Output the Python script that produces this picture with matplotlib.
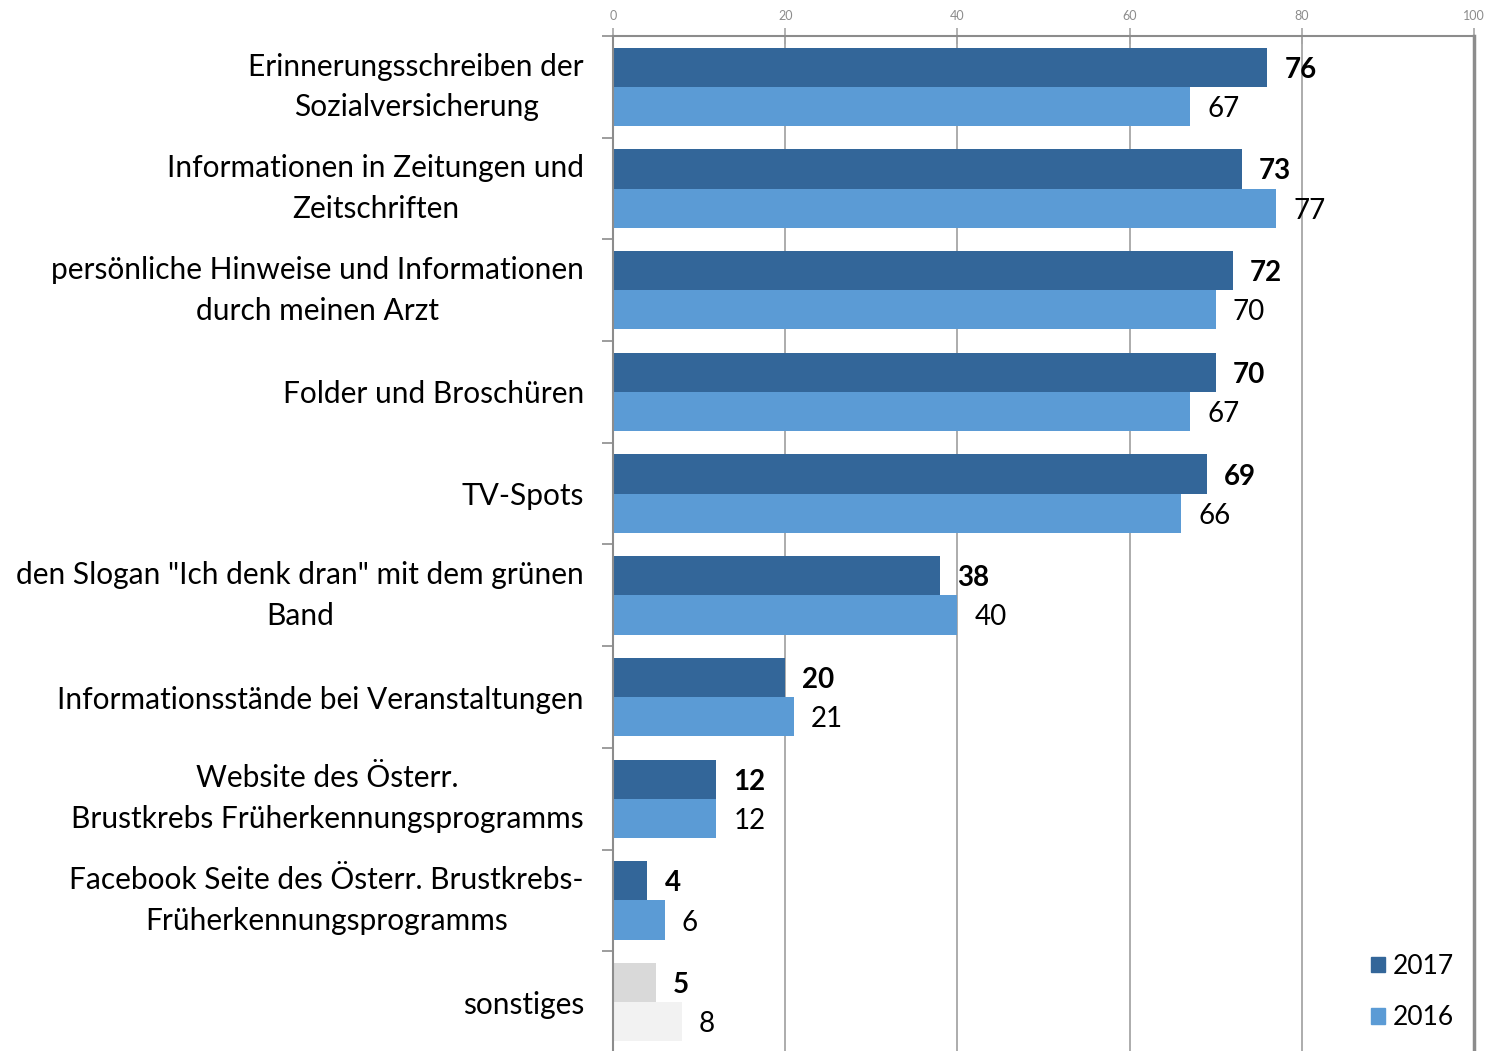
import matplotlib.pyplot as plt
import numpy as np

# Daten
kategorien = [
    "Erinnerungsschreiben der\nSozialversicherung",
    "Informationen in Zeitungen und\nZeitschriften",
    "persönliche Hinweise und Informationen\ndurch meinen Arzt",
    "Folder und Broschüren",
    "TV-Spots",
    "den Slogan \"Ich denk dran\" mit dem grünen\nBand",
    "Informationsstände bei Veranstaltungen",
    "Website des Österr.\nBrustkrebs Früherkennungsprogramms",
    "Facebook Seite des Österr. Brustkrebs-\nFrüherkennungsprogramms",
    "sonstiges",
]
werte_2017 = [76, 73, 72, 70, 69, 38, 20, 12, 4, 5]
werte_2016 = [67, 77, 70, 67, 66, 40, 21, 12, 6, 8]

farbe_2017 = ["#336699"] * 9 + ["#D9D9D9"]
farbe_2016 = ["#5B9BD5"] * 9 + ["#F2F2F2"]

plt.rcParams['font.family'] = ['Lato', 'DejaVu Sans']

fig = plt.figure(figsize=(14.97, 10.51), dpi=100)
ax = fig.add_axes([613 / 1497, 1 - 1053 / 1051, (1474 - 613) / 1497, (1053 - 36) / 1051])

y = np.arange(len(kategorien))
h = 0.385
ax.barh(y - h / 2, werte_2017, height=h, color=farbe_2017, label="2017")
ax.barh(y + h / 2, werte_2016, height=h, color=farbe_2016, label="2016")

# Beschriftung der Balken
for i, (a, b) in enumerate(zip(werte_2017, werte_2016)):
    ax.text(a + 2, i - h / 2, str(a), ha="left", va="center_baseline", fontsize=20, fontweight="bold")
    ax.text(b + 2, i + h / 2, str(b), ha="left", va="center_baseline", fontsize=20)

ax.set_xlim(0, 100)
ax.set_ylim(len(kategorien) - 0.5, -0.5)

ax.xaxis.tick_top()
ax.set_xticks([0, 20, 40, 60, 80, 100])
ax.tick_params(axis="x", colors="#A6A6A6", labelsize=9, direction="inout", length=12, width=1.2, pad=4)
for t in ax.get_xticklabels():
    t.set_color("#8C8C8C")
ax.grid(axis="x", color="#A6A6A6", lw=1.3)
ax.set_axisbelow(True)

ax.set_yticks(y)
ax.set_yticklabels(kategorien, fontsize=21.5)
for t in ax.get_yticklabels():
    t.set_multialignment("center")
    t.set_linespacing(1.55)
    if "\n" in t.get_text():
        t.set_va("center")
ax.tick_params(axis="y", length=0, pad=21)
ax.set_yticks(np.arange(len(kategorien) + 1) - 0.5, minor=True)
ax.tick_params(axis="y", which="minor", length=8, color="#8C8C8C", width=1.2)

for s in ["top", "left"]:
    ax.spines[s].set_color("#8C8C8C")
    ax.spines[s].set_linewidth(1.5)
ax.spines["right"].set_color("#8C8C8C")
ax.spines["right"].set_linewidth(2.5)
ax.spines["bottom"].set_visible(False)

leg = ax.legend(loc="lower left", bbox_to_anchor=(1347 / 1497, 1 - 1054 / 1051),
                bbox_transform=fig.transFigure, frameon=False, fontsize=19,
                handlelength=0.55, handleheight=0.55, handletextpad=0.3, labelspacing=1.0)
leg.legend_handles[0].set_color("#336699")
leg.legend_handles[1].set_color("#5B9BD5")

fig.savefig("out.png", dpi=100)
